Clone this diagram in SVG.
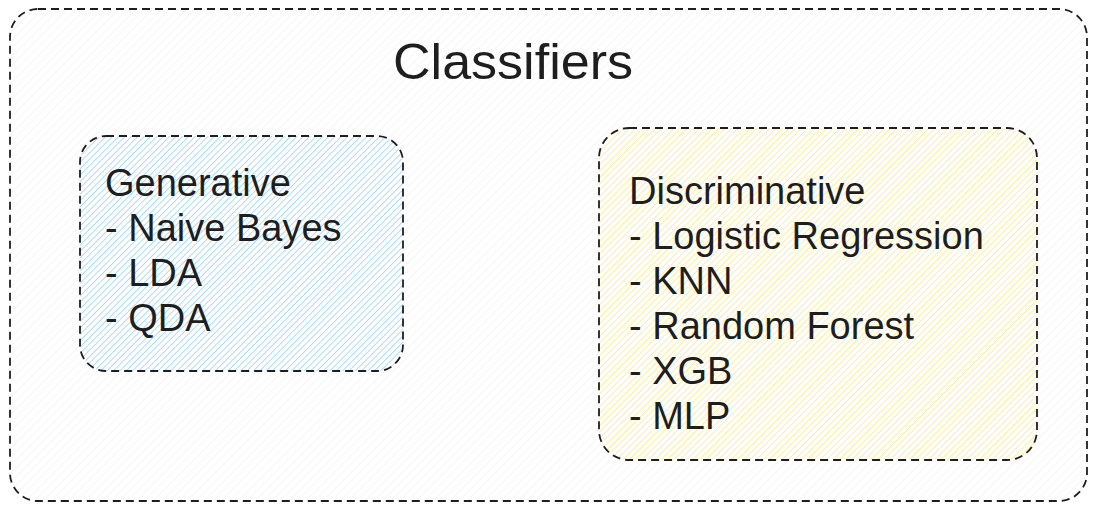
<svg xmlns="http://www.w3.org/2000/svg" width="1097" height="511" viewBox="0 0 1097 511">
  <defs>
    <pattern id="hGrey" patternUnits="userSpaceOnUse" width="6" height="6" patternTransform="rotate(45)">
      <rect width="6" height="6" fill="#ffffff"/>
      <line x1="0" y1="0" x2="0" y2="6" stroke="#f0f0f0" stroke-width="1.2"/>
    </pattern>
    <pattern id="hBlue" patternUnits="userSpaceOnUse" width="4.5" height="4.5" patternTransform="rotate(45)">
      <rect width="4.5" height="4.5" fill="#ffffff"/>
      <line x1="0" y1="0" x2="0" y2="4.5" stroke="#a5d8ff" stroke-width="1.8"/>
    </pattern>
    <pattern id="hYellow" patternUnits="userSpaceOnUse" width="4.5" height="4.5" patternTransform="rotate(45)">
      <rect width="4.5" height="4.5" fill="#ffffff"/>
      <line x1="0" y1="0" x2="0" y2="4.5" stroke="#ffec99" stroke-width="1.8"/>
    </pattern>
  </defs>
  <style>
    .box { stroke: #1e1e1e; stroke-width: 1.8; stroke-dasharray: 8 5; }
    .t { font-family: "Liberation Sans", Arial, sans-serif; fill: #1e1e1e; }
    .body { font-size: 38px; }
    .title { font-size: 50px; }
  </style>
  <rect width="1097" height="511" fill="#ffffff"/>
  <g id="classifiers">
    <rect class="box" x="10" y="9" width="1077" height="492" rx="28" ry="28" fill="url(#hGrey)"/>
    <text class="t title" x="393" y="79" textLength="240" lengthAdjust="spacingAndGlyphs">Classifiers</text>
  </g>
  <g id="generative">
    <rect class="box" x="80" y="136" width="323" height="235" rx="26" ry="26" fill="url(#hBlue)"/>
    <text class="t body" x="105" y="196">Generative</text>
    <text class="t body" x="105" y="241">- Naive Bayes</text>
    <text class="t body" x="105" y="286">- LDA</text>
    <text class="t body" x="105" y="331">- QDA</text>
  </g>
  <g id="discriminative">
    <rect class="box" x="599" y="128" width="438" height="332" rx="30" ry="30" fill="url(#hYellow)"/>
    <text class="t body" x="629" y="204">Discriminative</text>
    <text class="t body" x="629" y="249">- Logistic Regression</text>
    <text class="t body" x="629" y="294">- KNN</text>
    <text class="t body" x="629" y="339">- Random Forest</text>
    <text class="t body" x="629" y="384">- XGB</text>
    <text class="t body" x="629" y="429">- MLP</text>
  </g>
  <g id="connectors"/>
</svg>
